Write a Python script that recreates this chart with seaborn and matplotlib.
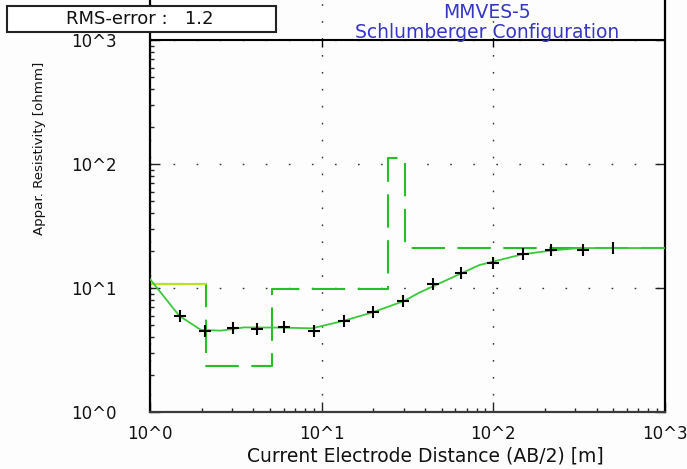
import matplotlib
matplotlib.use("Agg")
import matplotlib.pyplot as plt
from matplotlib.patches import Rectangle
from matplotlib.ticker import FixedLocator, NullFormatter
import seaborn as sns

# Measured apparent resistivity (Schlumberger sounding MMVES-5)
ab2 = [1.5, 2.09, 3.06, 4.22, 6.04, 9.04, 13.5, 20.0, 29.9, 44.3, 65.0, 99.0, 148.0, 217.0, 332.0, 496.0]
rho_app = [5.97, 4.53, 4.76, 4.67, 4.88, 4.47, 5.45, 6.46, 7.87, 10.7, 13.2, 15.9, 18.8, 20.1, 20.4, 21.0]

# Computed response of the fitted model
curve_ab2 = [1.0, 1.48, 1.98, 2.58, 3.53, 5.89, 8.8, 13.5, 19.7, 30.3, 37.0, 82.8, 147.6, 221.0, 317.0, 1000.0]
curve_rho = [11.8, 5.97, 4.59, 4.53, 4.81, 4.79, 4.73, 5.45, 6.35, 7.87, 9.17, 15.3, 18.7, 20.1, 21.0, 21.0]

# Layered model: layer bottoms [m] and layer resistivities [ohmm]
layer_depth = [2.11, 5.12, 24.2, 30.7]
layer_rho = [10.7, 2.33, 9.76, 111.7, 21.0]

tick_vals = [1, 10, 100, 1000]
tick_labels = ["10^0", "10^1", "10^2", "10^3"]
minor_vals = [m * d for d in (1, 10, 100) for m in range(2, 10)]

rms_text = "RMS-error :   1.2"
title_lines = ["MMVES-5", "Schlumberger Configuration"]

sns.set_theme(style="white")
plt.rcParams["font.family"] = ["DejaVu Sans"]

W, H = 687, 469
bg = "#fdfdfd"
fig = plt.figure(figsize=(W / 100, H / 100), dpi=100)
fig.patch.set_facecolor(bg)
ax = fig.add_axes([150 / W, 57 / H, 515 / W, 412 / H])
ax.set_facecolor(bg)
ax.set_xscale("log")
ax.set_yscale("log")
decade_px = 124.0
ymax = 10 ** (412 / decade_px)
ax.set_xlim(tick_vals[0], tick_vals[-1])
ax.set_ylim(tick_vals[0], ymax)

# model as a step line
step_x = [tick_vals[0]] + layer_depth + [tick_vals[-1]]
step_y = layer_rho + [layer_rho[-1]]
ax.plot(step_x, step_y, drawstyle="steps-post", color="#25c025", lw=1.5,
        linestyle=(0, (16, 6)), zorder=2)
sns.lineplot(x=[tick_vals[0], layer_depth[0]], y=[layer_rho[0], layer_rho[0]],
             color="#b9e31f", lw=1.5, estimator=None, sort=False, ax=ax, zorder=2)

# computed response curve
sns.lineplot(x=curve_ab2, y=curve_rho, color="#3cc83c", lw=1.3,
             estimator=None, sort=False, ax=ax, zorder=3)

# measured points
sns.scatterplot(x=ab2[:-1], y=rho_app[:-1], marker="+", s=85, color="black",
                linewidth=1.5, ax=ax, zorder=4)
sns.scatterplot(x=ab2[-1:], y=rho_app[-1:], marker="|", s=85, color="black",
                linewidth=1.5, ax=ax, zorder=4)

# axes decoration
ax.set_xticks(tick_vals, tick_labels)
ax.set_yticks(tick_vals, tick_labels)
ax.xaxis.set_minor_locator(FixedLocator(minor_vals))
ax.yaxis.set_minor_locator(FixedLocator(minor_vals))
ax.xaxis.set_minor_formatter(NullFormatter())
ax.yaxis.set_minor_formatter(NullFormatter())
ax.tick_params(which="major", direction="in", length=7, width=1.0, color="#222222",
               labelsize=12, labelcolor="#111111", left=True, bottom=True,
               right=True, top=False)
ax.tick_params(which="minor", direction="in", length=3, width=1.0, color="#222222",
               left=True, bottom=True, right=False, top=False)
ax.tick_params(axis="y", which="major", pad=24)
ax.tick_params(axis="x", which="major", pad=9)

ax.xaxis.grid(True, which="major", color="#333333", lw=1.0, linestyle=(0, (1.2, 11)))
ax.yaxis.grid(True, which="major", color="#333333", lw=1.0, linestyle=(0, (1.2, 15.4)))
ax.set_axisbelow(True)

ax.axhline(tick_vals[-1], color="black", lw=1.5, zorder=5)
ax.plot(tick_vals[1:3], [tick_vals[-1]] * 2, linestyle="", marker=3, ms=5,
        mew=1.0, color="black", zorder=5)

for side in ("left", "right"):
    ax.spines[side].set_color("black")
    ax.spines[side].set_linewidth(1.6)
ax.spines["bottom"].set_color("#3a3a3a")
ax.spines["bottom"].set_linewidth(1.6)
ax.spines["top"].set_visible(False)

ax.set_xlabel("Current Electrode Distance (AB/2) [m]", fontsize=13.5, color="#111111")
ax.xaxis.set_label_coords(0.534, -0.107)
ax.xaxis.label.set_va("center")
ax.set_ylabel("Appar. Resistivity [ohmm]", fontsize=9.6, color="#111111")
ax.yaxis.set_label_coords(-0.2155, 0.641)
ax.yaxis.label.set_va("center")

for i, line in enumerate(title_lines):
    fig.text(487 / W, 1 - (13 + 19 * i) / H, line, ha="center", va="center",
             color="#3636c6", fontsize=13.5)

fig.add_artist(Rectangle((7 / W, 1 - 32 / H), 269 / W, 26 / H,
                         transform=fig.transFigure, facecolor="white",
                         edgecolor="#222222", lw=1.5, zorder=10))
fig.text(140 / W, 1 - 19 / H, rms_text, ha="center", va="center",
         fontsize=13, color="#111111", zorder=11)

fig.savefig("out.png", dpi=100, facecolor=bg)
